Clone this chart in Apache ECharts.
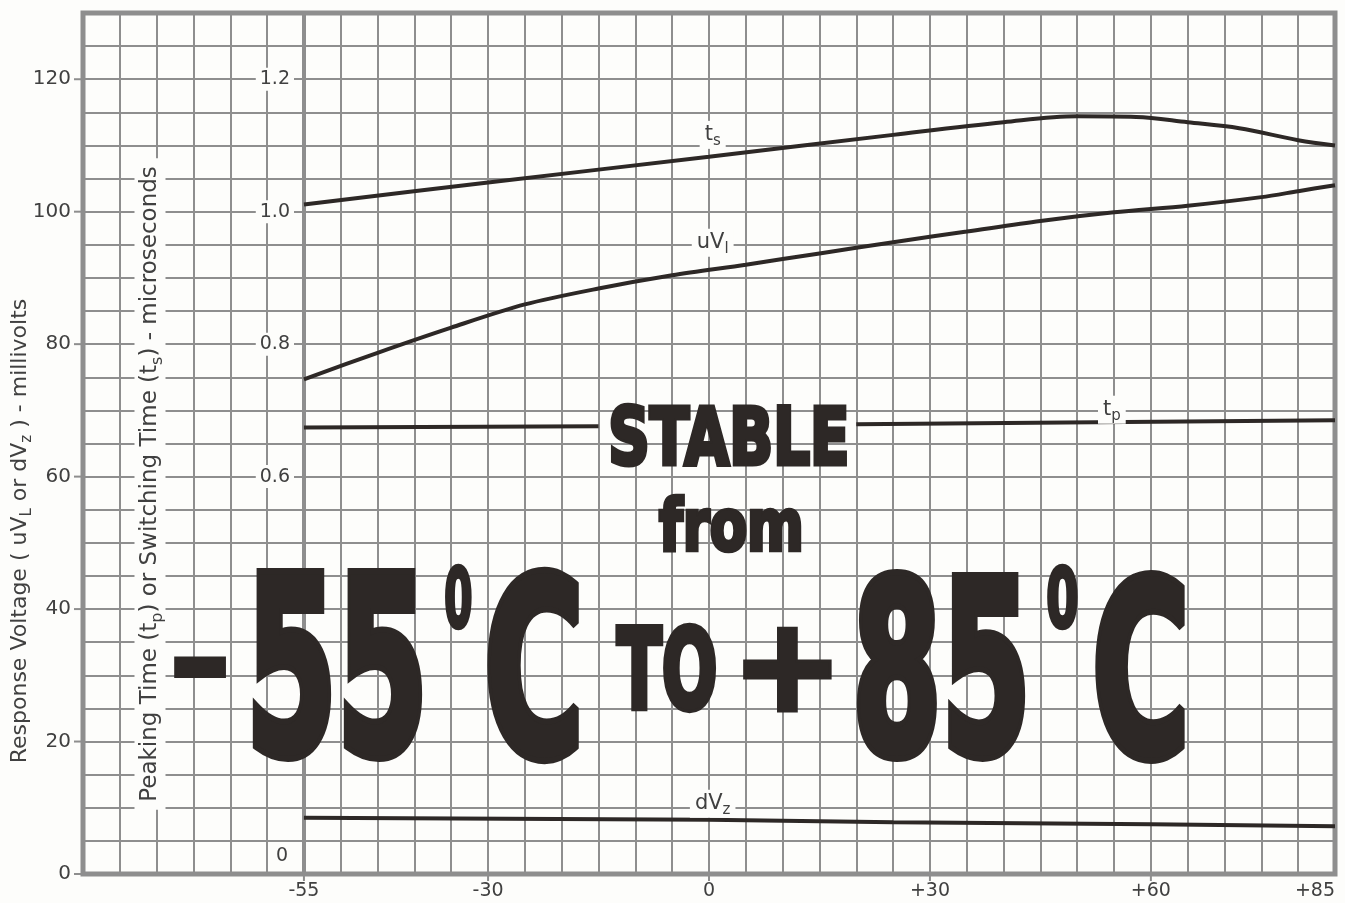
<!DOCTYPE html>
<html>
<head>
<meta charset="utf-8">
<title>Stable from -55°C to +85°C</title>
<script src="https://cdn.jsdelivr.net/npm/echarts@6.0.0/dist/echarts.min.js"></script>
<style>
  html, body { margin: 0; padding: 0; background: #fdfdfb; }
  #main { width: 1345px; height: 903px; }
</style>
</head>
<body>
<div id="main"></div>
<script>
// labelled temperatures on the bottom axis (deg C)
var tempLabels = [-55, -30, 0, 30, 60, 85];
// left axis (millivolts) and inner axis (microseconds) labels
var mvLabels = [0, 20, 40, 60, 80, 100, 120];
var usLabels = [0.6, 0.8, 1.0, 1.2];

// switching time t_s, microseconds
var tsTemp = [-55, -30, 0, 25, 40, 50, 58, 65, 72, 80, 85];
var tsValue = [1.011, 1.044, 1.083, 1.116, 1.135, 1.144, 1.143, 1.135, 1.126, 1.108, 1.100];

// response voltage uV_l, millivolts
var uvTemp = [-55, -45, -35, -25, -15, -5, 5, 15, 25, 35, 45, 55, 65, 75, 80, 85];
var uvValue = [74.7, 78.7, 82.5, 86.0, 88.4, 90.4, 92.0, 93.7, 95.4, 97.0, 98.6, 99.9, 100.9, 102.2, 103.1, 104.0];

// peaking time t_p, microseconds (line broken behind "STABLE")
var tpTemp = [-55, -15, 0, 20, 85];
var tpValue = [0.674, 0.676, null, 0.679, 0.685];

// response voltage dV_z, millivolts
var dvTemp = [-55, 0, 25, 60, 85];
var dvValue = [8.5, 8.2, 7.8, 7.5, 7.2];

var INK = '#2d2826';
var GRIDC = '#8e8e8e';
var LABELC = '#404040';
var PAPER = '#fdfdfb';
var FONT = '"DejaVu Sans", "Noto Sans", sans-serif';

var chart = echarts.init(document.getElementById('main'));

function pairs(xs, ys) {
  return xs.map(function (x, i) { return [x, ys[i]]; });
}

function curve(name, xs, ys, axis, smooth) {
  return {
    name: name,
    type: 'line',
    xAxisIndex: 0,
    yAxisIndex: axis,
    data: pairs(xs, ys),
    symbol: 'none',
    smooth: smooth,
    connectNulls: false,
    lineStyle: { color: INK, width: 4 },
    z: 5,
    silent: true
  };
}

var option = {
  animation: false,
  backgroundColor: PAPER,
  grid: {
    left: 83, right: 10, top: 13, bottom: 29,
    show: true, borderColor: GRIDC, borderWidth: 5,
    containLabel: false
  },
  xAxis: [{
    type: 'value', min: -85, max: 85, interval: 5,
    axisLine: { show: false, onZero: false },
    axisTick: { show: false },
    splitLine: { show: true, lineStyle: { color: GRIDC, width: 2 } },
    axisLabel: {
      margin: 0,
      formatter: function (v) {
        var r = Math.round(v);
        if (tempLabels.indexOf(r) < 0) return '';
        if (r === 85) return '{e|+85}';
        // small tick above each label
        return '{t|}\n{v|' + (r > 0 ? '+' + r : String(r)) + '}';
      },
      rich: {
        t: { width: 2, height: 7, backgroundColor: GRIDC, align: 'center' },
        v: { fontSize: 19, fontFamily: FONT, color: LABELC, padding: [1, 0, 0, 0] },
        e: { fontSize: 19, fontFamily: FONT, color: LABELC, padding: [8, 40, 0, 0] }
      }
    }
  }],
  yAxis: [{
    // grid lines every 5 mV
    type: 'value', position: 'left', min: 0, max: 130, interval: 5,
    axisLine: { show: false, onZero: false },
    axisTick: { show: false },
    axisLabel: { show: false },
    splitLine: { show: true, lineStyle: { color: GRIDC, width: 2 } }
  }, {
    // inner microsecond axis at -55
    type: 'value', position: 'left', offset: -221, min: 0, max: 1.3, interval: 0.2,
    axisLine: { show: true, onZero: false, lineStyle: { color: GRIDC, width: 4 } },
    axisTick: { show: false },
    splitLine: { show: false },
    axisLabel: {
      margin: 10,
      formatter: function (v) {
        var r = Math.round(v * 10) / 10;
        if (r === 0) return '{z|0}\n{gap| }';
        if (usLabels.indexOf(r) < 0) return '';
        return '{b|' + r.toFixed(1) + '}';
      },
      rich: {
        b: { fontSize: 19, fontFamily: FONT, color: LABELC, backgroundColor: PAPER, padding: [2, 4] },
        z: { fontSize: 19, fontFamily: FONT, color: LABELC, backgroundColor: PAPER, padding: [4, 6] },
        gap: { fontSize: 10, lineHeight: 36 }
      }
    }
  }, {
    // millivolt labels with their short ticks
    type: 'value', position: 'left', min: 0, max: 130, interval: 20,
    axisLine: { show: false, onZero: false },
    axisTick: { show: false },
    splitLine: { show: false },
    axisLabel: {
      margin: 0,
      formatter: function (v) {
        var r = Math.round(v);
        return mvLabels.indexOf(r) < 0 ? '' : '{v|' + r + '}{sp|}{t|}';
      },
      rich: {
        v: { fontSize: 20, fontFamily: FONT, color: LABELC },
        sp: { width: 3, height: 2 },
        t: { width: 9, height: 2, backgroundColor: GRIDC }
      }
    }
  }],
  series: [
    curve('t_s', tsTemp, tsValue, 1, 0.35),
    curve('uV_l', uvTemp, uvValue, 0, 0.3),
    curve('t_p', tpTemp, tpValue, 1, false),
    curve('dV_z', dvTemp, dvValue, 0, false)
  ]
};

chart.setOption(option);

// ---- overlay texts ----
var measureCtx = document.createElement('canvas').getContext('2d');

// heavy condensed lettering fitted into a box [x0,x1] x [y0,y1]
function bigText(text, x0, x1, y0, y1, size, lw) {
  var font = 'bold ' + size + 'px "DejaVu Sans"';
  measureCtx.font = font;
  measureCtx.textBaseline = 'middle';
  measureCtx.textAlign = 'left';
  var m = measureCtx.measureText(text);
  var l = -m.actualBoundingBoxLeft - lw / 2, r = m.actualBoundingBoxRight + lw / 2;
  var t = -m.actualBoundingBoxAscent - lw / 2, b = m.actualBoundingBoxDescent + lw / 2;
  var sx = (x1 - x0) / (r - l), sy = (y1 - y0) / (b - t);
  return {
    type: 'text', z: 100, silent: true,
    x: x0 - l * sx, y: y0 - t * sy, scaleX: sx, scaleY: sy,
    style: {
      text: text, font: font, fill: INK, stroke: INK, lineWidth: lw, lineJoin: 'round',
      textAlign: 'left', textVerticalAlign: 'middle', verticalAlign: 'middle'
    }
  };
}

function richStyle(size, subSize, drop) {
  return {
    n: { fontSize: size, fontFamily: FONT, fill: LABELC, color: LABELC },
    s: { fontSize: subSize, fontFamily: FONT, fill: LABELC, color: LABELC, padding: [drop, 0, 0, 0] }
  };
}

var curveLabels = [
  { text: '{n|t}{s|s}', t: 0.5, mv: 111.6 },
  { text: '{n|uV}{s|l}', t: 0.5, mv: 95.3 },
  { text: '{n|t}{s|p}', t: 54.7, mv: 70.1 },
  { text: '{n|dV}{s|z}', t: 0.5, mv: 10.6 }
];

var graphics = [];

graphics.push({
  type: 'text', z: 50, silent: true, x: 20, y: 531, rotation: Math.PI / 2,
  style: {
    text: '{n|Response Voltage ( uV}{s|L}{n| or dV}{s|z}{n| ) - millivolts}',
    rich: richStyle(22, 15, 14),
    textAlign: 'center', textVerticalAlign: 'middle', verticalAlign: 'middle'
  }
});

graphics.push({
  type: 'text', z: 50, silent: true, x: 150, y: 484, rotation: Math.PI / 2,
  style: {
    text: '{n|Peaking Time (t}{s|p}{n|) or Switching Time (t}{s|s}{n|) - microseconds}',
    rich: richStyle(23, 16, 15),
    backgroundColor: PAPER, padding: [0, 8],
    textAlign: 'center', textVerticalAlign: 'middle', verticalAlign: 'middle'
  }
});

curveLabels.forEach(function (c) {
  var p = chart.convertToPixel({ xAxisIndex: 0, yAxisIndex: 0 }, [c.t, c.mv]);
  graphics.push({
    type: 'text', z: 40, silent: true, x: p[0], y: p[1],
    style: {
      text: c.text, rich: richStyle(21, 15, 13),
      backgroundColor: PAPER, padding: [0, 5],
      textAlign: 'center', textVerticalAlign: 'middle', verticalAlign: 'middle'
    }
  });
});

graphics.push(bigText('STABLE', 610, 847, 402, 467, 80, 5));
graphics.push(bigText('from', 658, 802, 494, 553, 80, 5));
graphics.push(bigText('-', 173, 228, 657, 680, 260, 8));
graphics.push(bigText('55', 251, 424, 568, 763, 260, 13));
graphics.push(bigText('0', 445, 472, 562, 630, 90, 5));
graphics.push(bigText('C', 487, 579, 565, 765, 260, 13));
graphics.push(bigText('TO', 615, 716, 623, 713, 120, 7));
graphics.push(bigText('+', 743, 832, 627, 713, 200, 8));
graphics.push(bigText('85', 855, 1027, 568, 763, 260, 13));
graphics.push(bigText('0', 1047, 1078, 562, 630, 90, 5));
graphics.push(bigText('C', 1095, 1185, 568, 765, 260, 13));

chart.setOption({ graphic: graphics });
</script>
</body>
</html>
